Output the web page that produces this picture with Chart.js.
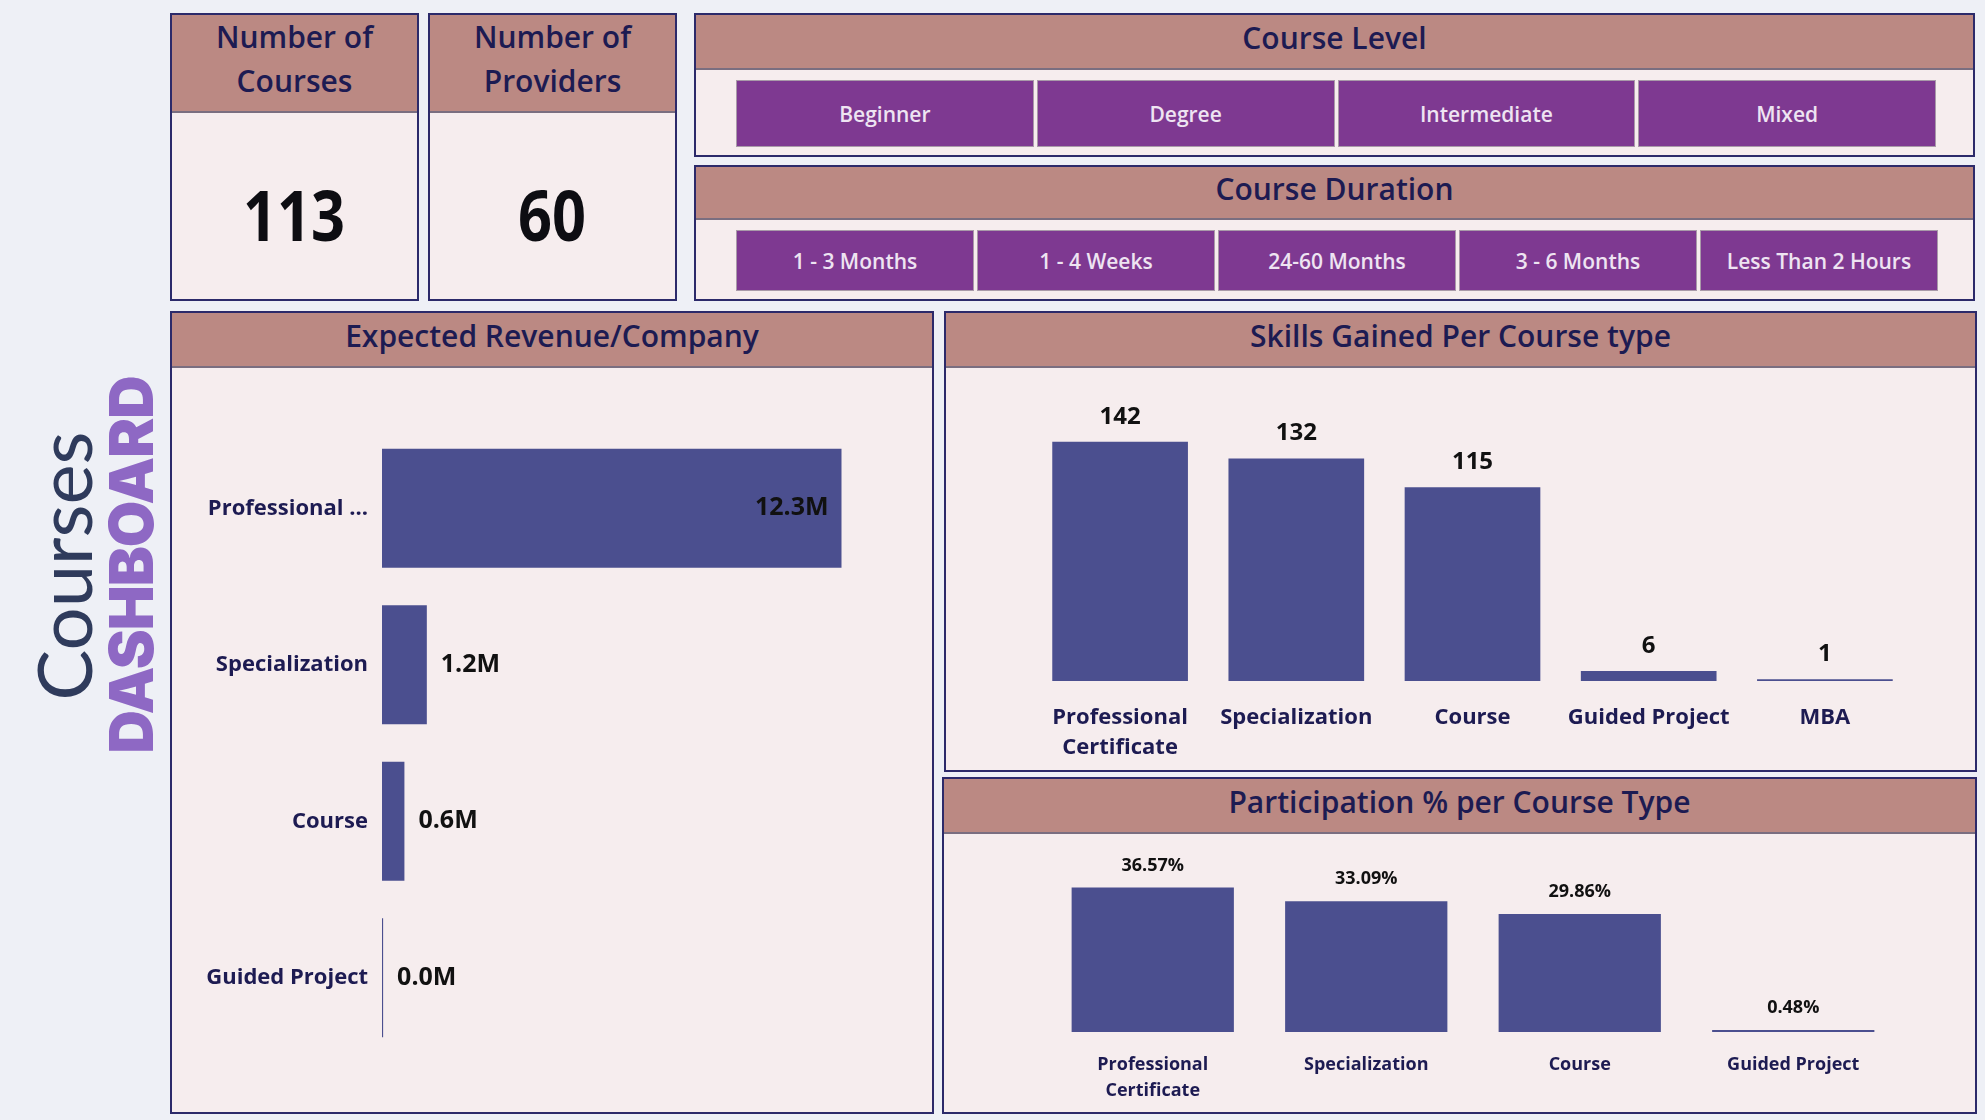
<!DOCTYPE html>
<html>
<head>
<meta charset="utf-8">
<script src="https://cdn.jsdelivr.net/npm/chart.js@4.4.0/dist/chart.umd.min.js"></script>
<style>
  body { margin:0; width:1985px; height:1120px; background:#eef0f6; font-family:'Open Sans', sans-serif; position:relative; overflow:hidden; }
  .panel { position:absolute; box-sizing:border-box; border:2px solid #2c2a6a; background:#f6edee; }
  .head { background:#bb8983; border-bottom:2px solid #7a6e80; color:#1d1b52; font-size:30px; font-weight:600; padding-bottom:9px;
          box-sizing:border-box; display:flex; align-items:center; justify-content:center; text-align:center; }
  .kpi .head { line-height:44px; }
  .big { position:absolute; left:0; right:0; text-align:center; font-family:'Open Sans',sans-serif;
         font-weight:bold; font-size:70px; color:#0d0d12; }
  .big span { display:inline-block; transform:scaleX(0.85); }
  .row { position:absolute; display:flex; gap:3px; }
  .btn { flex:1; background:#7e3991; border:1px solid #a99aa9; color:#eee4f2; font-size:21px; font-weight:600;
         display:flex; align-items:center; justify-content:center; box-sizing:border-box; }
  .box { position:absolute; }
  .vt { position:absolute; transform:translate(-50%,-50%) rotate(-90deg); white-space:nowrap; line-height:1; }
</style>
</head>
<body>

<div class="vt" style="left:63px;top:566px;font-family:Lato,sans-serif;font-size:76px;color:#2f3b5c;">Courses</div>
<div class="vt" style="left:131px;top:565px;font-family:Inter,sans-serif;font-weight:900;font-size:60px;letter-spacing:-1px;color:#8e68c4;">DASHBOARD</div>

<div class="panel kpi" style="left:170px;top:13px;width:249px;height:288px;">
  <div class="head" style="height:98px;">Number of<br>Courses</div>
  <div class="big" style="top:151px;"><span id="kpiCourses"></span></div>
</div>
<div class="panel kpi" style="left:428px;top:13px;width:249px;height:288px;">
  <div class="head" style="height:98px;">Number of<br>Providers</div>
  <div class="big" style="top:151px;"><span id="kpiProviders"></span></div>
</div>

<div class="panel" style="left:694px;top:13px;width:1281px;height:144px;">
  <div class="head" style="height:55px;">Course Level</div>
</div>
<div class="row" id="levelRow" style="left:736px;top:80px;width:1200px;height:67px;"></div>

<div class="panel" style="left:694px;top:165px;width:1281px;height:136px;">
  <div class="head" style="height:53px;">Course Duration</div>
</div>
<div class="row" id="durationRow" style="left:736px;top:230px;width:1202px;height:61px;"></div>

<div class="panel" style="left:170px;top:311px;width:764px;height:803px;">
  <div class="head" style="height:55px;">Expected Revenue/Company</div>
</div>
<div class="panel" style="left:944px;top:311px;width:1033px;height:461px;">
  <div class="head" style="height:55px;">Skills Gained Per Course type</div>
</div>
<div class="panel" style="left:942px;top:777px;width:1035px;height:337px;">
  <div class="head" style="height:55px;">Participation % per Course Type</div>
</div>

<div class="box" style="left:172px;top:368px;width:760px;height:744px;"><canvas id="graficoReceita"></canvas></div>
<div class="box" style="left:946px;top:368px;width:1029px;height:402px;"><canvas id="graficoSkills"></canvas></div>
<div class="box" style="left:944px;top:834px;width:1031px;height:278px;"><canvas id="graficoParticipacao"></canvas></div>

<script>
var numCursos = 113
var numProvedores = 60
var listNivel = ['Beginner', 'Degree', 'Intermediate', 'Mixed']
var listDuracao = ['1 - 3 Months', '1 - 4 Weeks', '24-60 Months', '3 - 6 Months', 'Less Than 2 Hours']

var receitaTipos = ['Professional Certificate', 'Specialization', 'Course', 'Guided Project']
var receitaValores = [12.3, 1.2, 0.6, 0.03]   // milhões

var skillsTipos = ['Professional Certificate', 'Specialization', 'Course', 'Guided Project', 'MBA']
var skillsValores = [142, 132, 115, 6, 1]

var partTipos = ['Professional Certificate', 'Specialization', 'Course', 'Guided Project']
var partValores = [36.57, 33.09, 29.86, 0.48]

var corBarra = '#4b4f8f'
var corTexto = '#1d1b52'

Chart.defaults.font.family = "'Open Sans', sans-serif"

document.getElementById('kpiCourses').innerHTML = numCursos
document.getElementById('kpiProviders').innerHTML = numProvedores

function criarBotoes(id, lista) {
  var row = document.getElementById(id)
  for (var i = 0; i < lista.length; i++) {
    var b = document.createElement('div')
    b.className = 'btn'
    b.textContent = lista[i]
    row.appendChild(b)
  }
}
criarBotoes('levelRow', listNivel)
criarBotoes('durationRow', listDuracao)

// escreve o valor em cima / ao lado de cada barra
var rotulosValor = {
  id: 'rotulosValor',
  afterDatasetsDraw(chart, args, opts) {
    var ctx = chart.ctx
    var meta = chart.getDatasetMeta(0)
    var data = chart.data.datasets[0].data
    ctx.save()
    ctx.font = opts.font
    ctx.fillStyle = opts.color
    ctx.textBaseline = 'middle'
    meta.data.forEach((bar, i) => {
      var txt = data[i].toFixed(opts.decimals) + opts.suffix
      if (chart.options.indexAxis === 'y') {
        var w = ctx.measureText(txt).width
        if (bar.x - bar.base > w + 30) {
          ctx.textAlign = 'right'
          ctx.fillText(txt, bar.x - 13, bar.y)
        } else {
          ctx.textAlign = 'left'
          ctx.fillText(txt, bar.x + 14, bar.y)
        }
      } else {
        ctx.textAlign = 'center'
        ctx.fillText(txt, bar.x, bar.y - opts.offset)
      }
    })
    ctx.restore()
  }
}

function quebrar(label) {
  if (label.length > 15) return label.split(' ')
  return label
}

function createReceita() {
  var ctx = document.getElementById('graficoReceita')
  new Chart(ctx, {
    type: 'bar',
    plugins: [rotulosValor],
    data: {
      labels: receitaTipos,
      datasets: [{
        data: receitaValores,
        backgroundColor: corBarra,
        barPercentage: 0.76,
        categoryPercentage: 1
      }]
    },
    options: {
      indexAxis: 'y',
      responsive: true,
      maintainAspectRatio: false,
      animation: false,
      layout: { padding: { top: 62, bottom: 56, left: 0, right: 27 } },
      plugins: {
        legend: { display: false },
        tooltip: { enabled: false },
        rotulosValor: { font: "bold 25px 'Open Sans', sans-serif", color: '#111', decimals: 1, suffix: 'M' }
      },
      scales: {
        x: { display: false, min: 0, max: 14 },
        y: {
          grid: { display: false, drawTicks: false },
          border: { display: false },
          ticks: {
            color: corTexto,
            padding: 14,
            font: { size: 22, weight: 'bold' },
            callback: function (v) {
              var l = this.getLabelForValue(v)
              return l.length > 15 ? l.split(' ')[0] + ' ...' : l
            }
          },
          afterFit: function (axis) { axis.width = 210 }
        }
      }
    }
  })
}

function createSkills() {
  var ctx = document.getElementById('graficoSkills')
  new Chart(ctx, {
    type: 'bar',
    plugins: [rotulosValor],
    data: {
      labels: skillsTipos,
      datasets: [{
        data: skillsValores,
        backgroundColor: corBarra,
        barPercentage: 0.77,
        categoryPercentage: 1
      }]
    },
    options: {
      responsive: true,
      maintainAspectRatio: false,
      animation: false,
      layout: { padding: { top: 35, bottom: 0, left: 86, right: 62 } },
      plugins: {
        legend: { display: false },
        tooltip: { enabled: false },
        rotulosValor: { font: "bold 24px 'Open Sans', sans-serif", color: '#111', decimals: 0, suffix: '', offset: 25 }
      },
      scales: {
        y: { display: false, min: 0, max: 165 },
        x: {
          grid: { display: false, drawTicks: false },
          border: { display: false },
          ticks: {
            color: corTexto,
            padding: 21,
            font: { size: 22, weight: 'bold', lineHeight: 1.4 },
            maxRotation: 0,
            callback: function (v) { return quebrar(this.getLabelForValue(v)) }
          },
          afterFit: function (axis) { axis.height = 89 }
        }
      }
    }
  })
}

function createParticipacao() {
  var ctx = document.getElementById('graficoParticipacao')
  new Chart(ctx, {
    type: 'bar',
    plugins: [rotulosValor],
    data: {
      labels: partTipos,
      datasets: [{
        data: partValores,
        backgroundColor: corBarra,
        barPercentage: 0.76,
        categoryPercentage: 1
      }]
    },
    options: {
      responsive: true,
      maintainAspectRatio: false,
      animation: false,
      layout: { padding: { top: 32, bottom: 0, left: 102, right: 75 } },
      plugins: {
        legend: { display: false },
        tooltip: { enabled: false },
        rotulosValor: { font: "bold 18px 'Open Sans', sans-serif", color: '#111', decimals: 2, suffix: '%', offset: 22 }
      },
      scales: {
        y: { display: false, min: 0, max: 42 },
        x: {
          grid: { display: false, drawTicks: false },
          border: { display: false },
          ticks: {
            color: corTexto,
            padding: 20,
            font: { size: 18, weight: 'bold', lineHeight: 1.45 },
            maxRotation: 0,
            callback: function (v) { return quebrar(this.getLabelForValue(v)) }
          },
          afterFit: function (axis) { axis.height = 80 }
        }
      }
    }
  })
}

createReceita()
createSkills()
createParticipacao()
</script>
</body>
</html>
